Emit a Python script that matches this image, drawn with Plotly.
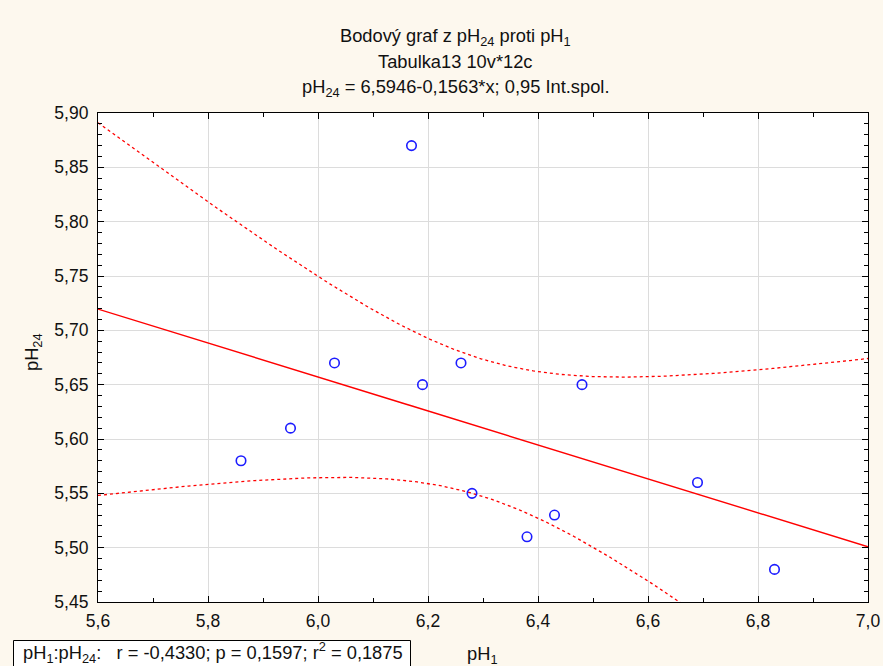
import numpy as np
import plotly.graph_objects as go

# Data
ph1 = [5.86, 5.95, 6.03, 6.17, 6.19, 6.26, 6.28, 6.38, 6.43, 6.48, 6.69, 6.83]
ph24 = [5.58, 5.61, 5.67, 5.87, 5.65, 5.67, 5.55, 5.51, 5.53, 5.65, 5.56, 5.48]
x_ticks = [5.6, 5.8, 6.0, 6.2, 6.4, 6.6, 6.8, 7.0]
y_ticks = [5.45, 5.50, 5.55, 5.60, 5.65, 5.70, 5.75, 5.80, 5.85, 5.90]
T_975_DF10 = 2.2281  # Student t quantile for 0.95 interval, df = n-2

# Linear fit and 0.95 confidence band of the mean
x = np.array(ph1)
y = np.array(ph24)
n = len(x)
slope, intercept = np.polyfit(x, y, 1)
resid = y - (intercept + slope * x)
s = np.sqrt(np.sum(resid ** 2) / (n - 2))
sxx = np.sum((x - x.mean()) ** 2)
xg = np.linspace(5.6, 7.0, 300)
yg = intercept + slope * xg
half = T_975_DF10 * s * np.sqrt(1.0 / n + (xg - x.mean()) ** 2 / sxx)

fig = go.Figure()
fig.add_trace(go.Scatter(x=xg, y=yg + half, mode="lines",
                         line=dict(color="#ff0000", width=1.3, dash="dot"),
                         hoverinfo="skip"))
fig.add_trace(go.Scatter(x=xg, y=yg - half, mode="lines",
                         line=dict(color="#ff0000", width=1.3, dash="dot"),
                         hoverinfo="skip"))
fig.add_trace(go.Scatter(x=xg, y=yg, mode="lines",
                         line=dict(color="#ff0000", width=1.4)))
fig.add_trace(go.Scatter(x=ph1, y=ph24, mode="markers",
                         marker=dict(symbol="circle-open", size=9.5,
                                     color="#1c1cff", line=dict(width=1.6))))

L, R, T, B = 98, 15, 113, 64
W, H = 883, 666
pw = W - L - R
ph = H - T - B


def px(xp):
    return (xp - L) / pw


def py(yp):
    return (H - B - yp) / ph


font = "Arial, Liberation Sans, sans-serif"
FS = 17.5
TS = 18.3

fig.update_layout(
    width=W, height=H,
    margin=dict(l=L, r=R, t=T, b=B, autoexpand=False),
    paper_bgcolor="#fdf8ee",
    plot_bgcolor="#ffffff",
    showlegend=False,
    separators=", ",
    font=dict(family=font, size=FS, color="#111111"),
)
fig.update_xaxes(
    range=[5.6, 7.0], tickvals=x_ticks, tickformat=".1f", automargin=False,
    showline=True, linecolor="black", linewidth=1.2, mirror="ticks",
    ticks="inside", ticklen=6, tickcolor="black", tickwidth=1,
    minor=dict(dtick=0.1, ticks="inside", ticklen=4, tickcolor="black", showgrid=False),
    showgrid=True, gridcolor="#dcdcdc", gridwidth=1, zeroline=False,
    tickfont=dict(size=FS, family=font), ticklabelstandoff=3,
)
fig.update_yaxes(
    range=[5.45, 5.90], tickvals=y_ticks, tickformat=".2f", automargin=False,
    showline=True, linecolor="black", linewidth=1.2, mirror="ticks",
    ticks="inside", ticklen=6, tickcolor="black", tickwidth=1,
    minor=dict(dtick=0.01, tick0=5.45, ticks="inside", ticklen=4, tickcolor="black", showgrid=False),
    showgrid=True, gridcolor="#dcdcdc", gridwidth=1, zeroline=False,
    tickfont=dict(size=FS, family=font), ticklabelstandoff=5,
)

cx = px(455)
titles = [
    ("Bodový graf z pH<sub>24</sub> proti pH<sub>1</sub>", 37),
    ("Tabulka13 10v*12c", 62),
    ("pH<sub>24</sub> = 6,5946-0,1563*x; 0,95 Int.spol.", 88),
]
for txt, yp in titles:
    fig.add_annotation(text=txt, x=cx, y=py(yp), xref="paper", yref="paper",
                       xanchor="center", yanchor="middle", showarrow=False,
                       font=dict(size=TS, family=font, color="#111111"))

fig.add_annotation(text="pH<sub>24</sub>", x=px(33), y=py(352), xref="paper", yref="paper",
                   textangle=-90, xanchor="center", yanchor="middle", showarrow=False,
                   font=dict(size=TS, family=font))
fig.add_annotation(text="pH<sub>1</sub>", x=px(482), y=py(655), xref="paper", yref="paper",
                   xanchor="center", yanchor="middle", showarrow=False,
                   font=dict(size=TS, family=font))

# statistics box
fig.add_shape(type="rect", xref="paper", yref="paper",
              x0=px(13.5), x1=px(410.5), y0=py(640.5), y1=py(690),
              line=dict(color="black", width=1), fillcolor="#ffffff", layer="above")
nb = "\u00a0"
box_txt = ("pH<sub>1</sub>:pH<sub>24</sub>:" + nb * 3 +
           "r = -0,4330; p = 0,1597; r<sup>2</sup> = 0,1875")
fig.add_annotation(text=box_txt, x=px(21), y=py(652), xref="paper", yref="paper",
                   xanchor="left", yanchor="middle", showarrow=False,
                   font=dict(size=TS, family=font))

fig.write_html("out.html", config={"displayModeBar": False},
               post_script="document.body.style.margin='0';document.body.style.overflow='hidden';")
